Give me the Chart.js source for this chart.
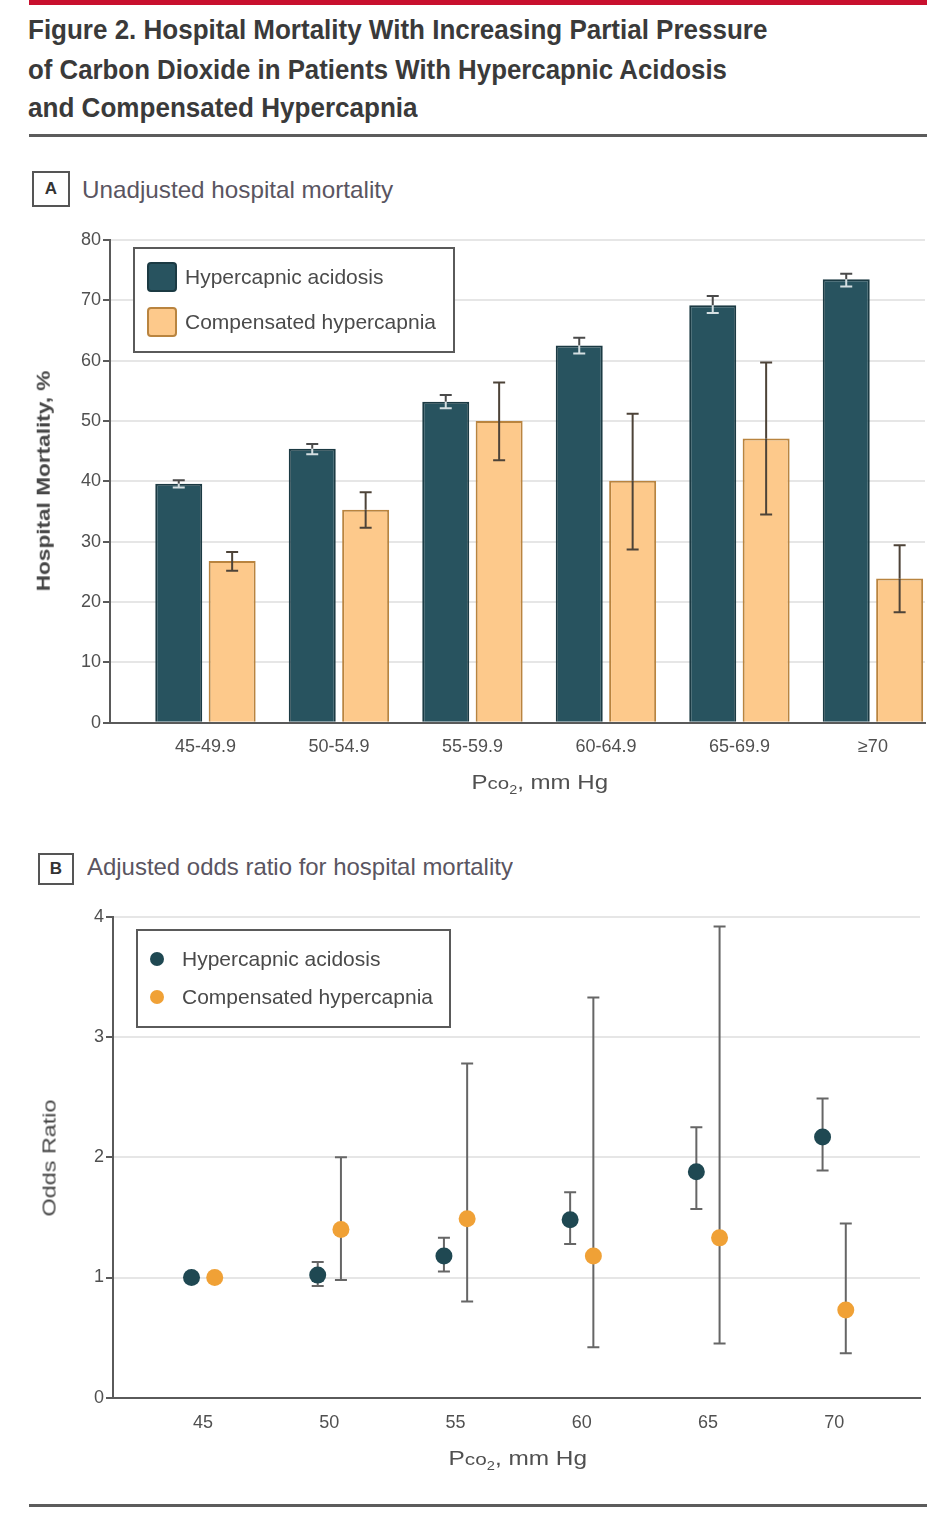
<!DOCTYPE html>
<html><head><meta charset="utf-8">
<script src="https://cdn.jsdelivr.net/npm/chart.js@4.4.1/dist/chart.umd.min.js"></script>
<style>
html,body{margin:0;padding:0;background:#fff;}
body{width:950px;height:1533px;position:relative;overflow:hidden;font-family:'Liberation Sans',Arial,sans-serif;}
.abs{position:absolute;white-space:nowrap;}
#redbar{left:29px;top:0;width:898px;height:5px;background:#c8102e;}
.rule{left:29px;width:898px;height:3px;background:#5c5c5c;}
.title{left:28px;font-size:28px;font-weight:bold;color:#3a3a3a;line-height:32px;transform-origin:0 50%;}
.panel{font-size:24px;color:#5a5561;line-height:28px;transform-origin:0 50%;}
.tag{border:2px solid #555;font-weight:bold;font-size:17px;color:#333;text-align:center;box-sizing:border-box;}
.axt{font-size:20px;color:#505050;line-height:24px;}
canvas{position:absolute;left:0;}
</style>
</head>
<body>
<div id="redbar" class="abs"></div>
<div class="abs title" id="t1" style="top:14px" data-w="739">Figure 2. Hospital Mortality With Increasing Partial Pressure</div>
<div class="abs title" id="t2" style="top:54px" data-w="699">of Carbon Dioxide in Patients With Hypercapnic Acidosis</div>
<div class="abs title" id="t3" style="top:92px" data-w="390">and Compensated Hypercapnia</div>
<div class="abs rule" style="top:134px"></div>

<div class="abs tag" style="left:32px;top:171px;width:38px;height:36px;line-height:32px;">A</div>
<div class="abs panel" id="pa" style="left:82px;top:176px" data-w="311">Unadjusted hospital mortality</div>
<canvas id="chartA" width="950" height="600" style="top:215px"></canvas>
<div class="abs axt" id="ya" data-cx="43.5" data-cy="481" data-w="220" style="font-weight:bold;font-size:19px;color:#454545;">Hospital Mortality, %</div>
<div class="abs axt" id="xa" data-cx="540" data-cy="786" data-w="137">P<span style="font-size:0.85em">co</span><sub style="font-size:0.6em">2</sub>, mm Hg</div>

<div class="abs tag" style="left:38px;top:853px;width:36px;height:32px;line-height:28px;">B</div>
<div class="abs panel" id="pb" style="left:87px;top:853px" data-w="426">Adjusted odds ratio for hospital mortality</div>
<canvas id="chartB" width="950" height="600" style="top:895px"></canvas>
<div class="abs axt" id="yb" data-cx="49" data-cy="1158" data-w="117" style="font-size:19px;color:#454545;">Odds Ratio</div>
<div class="abs axt" id="xb" data-cx="518" data-cy="1462" data-w="139">P<span style="font-size:0.85em">co</span><sub style="font-size:0.6em">2</sub>, mm Hg</div>

<div class="abs rule" style="top:1504px"></div>

<script>
// ---------- Data: Panel A (unadjusted hospital mortality, %) ----------
const categoriesA = ['45-49.9', '50-54.9', '55-59.9', '60-64.9', '65-69.9', '\u226570'];
const acidosisPct   = [39.6, 45.4, 53.2, 62.5, 69.2, 73.5];
const acidosisPctLo = [39.0, 44.5, 52.1, 61.2, 67.9, 72.3];
const acidosisPctHi = [40.2, 46.2, 54.3, 63.8, 70.7, 74.4];
const compPct   = [26.8, 35.3, 50.0, 40.1, 47.1, 23.9];
const compPctLo = [25.2, 32.3, 43.5, 28.7, 34.5, 18.3];
const compPctHi = [28.3, 38.2, 56.4, 51.2, 59.7, 29.4];
const yTicksA = [0, 10, 20, 30, 40, 50, 60, 70, 80];

// ---------- Data: Panel B (adjusted odds ratio) ----------
const pco2B = [45, 50, 55, 60, 65, 70];
const acidosisOR   = [1.00, 1.02, 1.18, 1.48, 1.88, 2.17];
const acidosisORLo = [null, 0.93, 1.05, 1.28, 1.57, 1.89];
const acidosisORHi = [null, 1.13, 1.33, 1.71, 2.25, 2.49];
const compOR   = [1.00, 1.40, 1.49, 1.18, 1.33, 0.73];
const compORLo = [null, 0.98, 0.80, 0.42, 0.45, 0.37];
const compORHi = [null, 2.00, 2.78, 3.33, 3.92, 1.45];
const yTicksB = [0, 1, 2, 3, 4];

const seriesNames = ['Hypercapnic acidosis', 'Compensated hypercapnia'];

// ---------- styling ----------
const FONT = "'Liberation Sans', Arial, sans-serif";
const darkFill = '#28535f', darkEdge = '#1b3a43';
const orangeFill = '#fdc98b', orangeEdge = '#b9843f';
const dotDark = '#1f4852', dotOrange = '#f0a136';
const dodge = 0.46;

// ---------- text fitting for HTML labels ----------
function fitText() {
  document.querySelectorAll('[data-w]').forEach(el => {
    const target = parseFloat(el.dataset.w);
    const w = el.offsetWidth, h = el.offsetHeight;
    const s = target / w;
    if (el.dataset.cx) {
      const cx = parseFloat(el.dataset.cx), cy = parseFloat(el.dataset.cy);
      el.style.left = (cx - w / 2) + 'px';
      el.style.top = (cy - h / 2) + 'px';
      el.style.transformOrigin = '50% 50%';
      const rot = (el.id === 'ya' || el.id === 'yb') ? 'rotate(-90deg) ' : '';
      el.style.transform = rot + 'scaleX(' + s + ')';
    } else {
      el.style.transform = 'scaleX(' + s + ')';
    }
  });
}
fitText();

// ---------- plugins ----------
const errorBars = {
  id: 'errorBars',
  beforeDatasetsDraw(chart, args, opts) { if (opts.under) drawErr(chart, opts); },
  afterDatasetsDraw(chart, args, opts) { if (!opts.under) drawErr(chart, opts); }
};
function drawErr(chart, opts) {
  const ctx = chart.ctx, ys = chart.scales.y;
  ctx.save();
  ctx.lineWidth = opts.width || 2;
  chart.data.datasets.forEach((ds, di) => {
    if (!ds.errLo) return;
    const meta = chart.getDatasetMeta(di);
    meta.data.forEach((el, i) => {
      const lo = ds.errLo[i], hi = ds.errHi[i];
      if (lo == null || hi == null) return;
      const x = el.x;
      const yv = ys.getPixelForValue(ds.data[i].y);
      const yl = ys.getPixelForValue(lo), yh = ys.getPixelForValue(hi);
      const cw = opts.cap;
      ctx.strokeStyle = ds.errColor;
      ctx.beginPath();
      ctx.moveTo(x, yv); ctx.lineTo(x, yh);
      ctx.moveTo(x - cw, yh); ctx.lineTo(x + cw, yh);
      ctx.stroke();
      ctx.strokeStyle = ds.errColorLow || ds.errColor;
      ctx.beginPath();
      ctx.moveTo(x, yv); ctx.lineTo(x, yl);
      ctx.moveTo(x - cw, yl); ctx.lineTo(x + cw, yl);
      ctx.stroke();
    });
  });
  ctx.restore();
}

const boxLegend = {
  id: 'boxLegend',
  afterDraw(chart, args, o) {
    const ctx = chart.ctx;
    ctx.save();
    ctx.fillStyle = '#fff';
    ctx.fillRect(o.x, o.y, o.w, o.h);
    ctx.strokeStyle = '#5a5a5a';
    ctx.lineWidth = 2;
    ctx.strokeRect(o.x, o.y, o.w, o.h);
    ctx.font = o.fontSize + 'px ' + FONT;
    ctx.textBaseline = 'middle';
    chart.data.datasets.forEach((ds, i) => {
      const cy = o.y + o.first + i * o.gap;
      if (o.marker === 'box') {
        const s = o.size;
        ctx.fillStyle = ds.backgroundColor;
        ctx.strokeStyle = ds.borderColor;
        ctx.lineWidth = 2;
        ctx.beginPath();
        ctx.roundRect(o.x + o.mx - s / 2, cy - s / 2, s, s, 3);
        ctx.fill(); ctx.stroke();
      } else {
        ctx.fillStyle = ds.backgroundColor;
        ctx.beginPath();
        ctx.arc(o.x + o.mx, cy, o.size / 2, 0, Math.PI * 2);
        ctx.fill();
      }
      ctx.fillStyle = '#4a4a4a';
      ctx.fillText(ds.label, o.x + o.tx, cy + 1);
    });
    ctx.restore();
  }
};

// ---------- Chart A ----------
new Chart(document.getElementById('chartA'), {
  type: 'bar',
  data: {
    datasets: [
      {
        label: seriesNames[0],
        data: acidosisPct.map((y, i) => ({ x: i, y })),
        errLo: acidosisPctLo, errHi: acidosisPctHi,
        errColor: '#4a4a4a', errColorLow: '#d5dfe2',
        backgroundColor: darkFill, borderColor: darkEdge, borderWidth: 2,
        categoryPercentage: 0.80, barPercentage: 0.88
      },
      {
        label: seriesNames[1],
        data: compPct.map((y, i) => ({ x: i, y })),
        errLo: compPctLo, errHi: compPctHi,
        errColor: '#4d4338',
        backgroundColor: orangeFill, borderColor: orangeEdge, borderWidth: 2,
        categoryPercentage: 0.80, barPercentage: 0.88
      }
    ]
  },
  options: {
    responsive: false, animation: false, devicePixelRatio: 1,
    layout: { padding: { top: 25, right: 25, left: 0, bottom: 0 } },
    plugins: {
      legend: { display: false }, tooltip: { enabled: false },
      errorBars: { cap: 6, width: 2 },
      boxLegend: { marker: 'box', x: 134, y: 33, w: 320, h: 104, first: 29, gap: 45, mx: 28, size: 28, tx: 51, fontSize: 21 }
    },
    scales: {
      x: {
        type: 'linear', min: -0.715, max: 5.39, offset: false,
        afterBuildTicks: s => { s.ticks = categoriesA.map((c, i) => ({ value: i })); },
        afterFit: s => { s.height = 92.3; },
        ticks: { callback: v => categoriesA[Math.round(v)], color: '#505050', font: { family: FONT, size: 18 }, padding: 14, maxRotation: 0, autoSkip: false },
        grid: { display: false, drawTicks: false, tickLength: 0, offset: false },
        border: { display: true, color: '#5a5a5a', width: 2 }
      },
      y: {
        min: 0, max: 80,
        afterBuildTicks: s => { s.ticks = yTicksA.map(v => ({ value: v })); },
        afterFit: s => { s.width = 110; },
        ticks: { color: '#505050', font: { family: FONT, size: 18 }, padding: 2 },
        grid: { color: '#e6e6e6', lineWidth: 2, tickColor: '#5a5a5a', tickLength: 7, drawTicks: true },
        border: { display: true, color: '#5a5a5a', width: 2 }
      }
    }
  },
  plugins: [errorBars, boxLegend]
});

// ---------- Chart B ----------
new Chart(document.getElementById('chartB'), {
  type: 'scatter',
  data: {
    datasets: [
      {
        label: seriesNames[0],
        data: acidosisOR.map((y, i) => ({ x: pco2B[i] - dodge, y })),
        errLo: acidosisORLo, errHi: acidosisORHi, errColor: '#666',
        backgroundColor: dotDark, borderColor: dotDark, pointRadius: 8.5, borderWidth: 0
      },
      {
        label: seriesNames[1],
        data: compOR.map((y, i) => ({ x: pco2B[i] + dodge, y })),
        errLo: compORLo, errHi: compORHi, errColor: '#666',
        backgroundColor: dotOrange, borderColor: dotOrange, pointRadius: 8.5, borderWidth: 0
      }
    ]
  },
  options: {
    responsive: false, animation: false, devicePixelRatio: 1,
    layout: { padding: { top: 22, right: 30, left: 0, bottom: 0 } },
    plugins: {
      legend: { display: false }, tooltip: { enabled: false },
      errorBars: { cap: 6, width: 2, under: true },
      boxLegend: { marker: 'dot', x: 137, y: 35, w: 313, h: 97, first: 29, gap: 38, mx: 20, size: 14, tx: 45, fontSize: 21 }
    },
    scales: {
      x: {
        type: 'linear', min: 41.43, max: 73.4,
        afterBuildTicks: s => { s.ticks = pco2B.map(v => ({ value: v })); },
        afterFit: s => { s.height = 97.3; },
        ticks: { color: '#505050', font: { family: FONT, size: 18 }, padding: 15 },
        grid: { display: false, drawTicks: false, tickLength: 0 },
        border: { display: true, color: '#5a5a5a', width: 2 }
      },
      y: {
        min: 0, max: 4,
        afterBuildTicks: s => { s.ticks = yTicksB.map(v => ({ value: v })); },
        afterFit: s => { s.width = 113; },
        ticks: { color: '#505050', font: { family: FONT, size: 18 }, padding: 2 },
        grid: { color: '#e6e6e6', lineWidth: 2, tickColor: '#5a5a5a', tickLength: 7, drawTicks: true },
        border: { display: true, color: '#5a5a5a', width: 2 }
      }
    }
  },
  plugins: [errorBars, boxLegend]
});
</script>
</body></html>
